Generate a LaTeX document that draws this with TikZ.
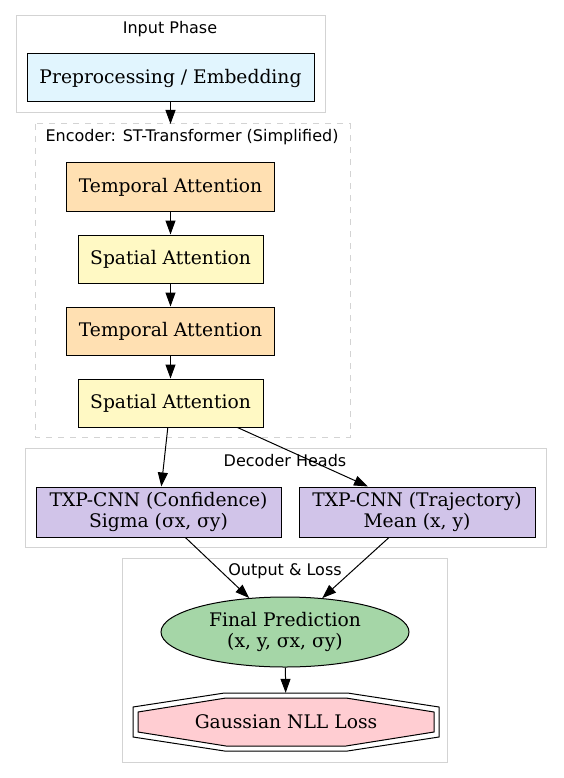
\documentclass[tikz,border=0pt]{standalone}
\usepackage{fontspec}
\setmainfont{DejaVu Serif}
\newfontfamily\labelfont{DejaVu Sans}
\usetikzlibrary{shapes.geometric,arrows.meta,positioning}
\definecolor{preblue}{HTML}{E1F5FE}
\definecolor{temporal}{HTML}{FFE0B2}
\definecolor{spatial}{HTML}{FFF9C4}
\definecolor{decoder}{HTML}{D1C4E9}
\definecolor{finalgreen}{HTML}{A5D6A7}
\definecolor{losspink}{HTML}{FFCDD2}
\definecolor{clustergray}{HTML}{D3D3D3}
\tikzset{
  cluster/.style={draw=clustergray, line width=1pt},
  clusterlabel/.style={font=\labelfont\fontsize{16}{18}\selectfont, inner sep=0pt},
  block/.style={draw, line width=1pt, inner sep=0pt, minimum height=48pt, align=center, font=\fontsize{18.7}{21}\selectfont},
  edge/.style={-{Triangle[length=14pt,width=10pt]}, line width=1pt},
}
\begin{document}
\begin{tikzpicture}[x=1pt,y=-1pt]
\useasboundingbox (0,0) rectangle (563,778);

% clusters
\draw[cluster] (16,16) rectangle (325,113);
\draw[cluster,dash pattern=on 6pt off 6pt] (35,124) rectangle (350,437);
\draw[cluster] (25,448) rectangle (546,547);
\draw[cluster] (122,558) rectangle (447,762);

\node (inlbl) at (170,29) [clusterlabel] {Input Phase};
\node (enclbl) at (192,137) [clusterlabel] {Encoder: ST-Transformer (Simplified)};
\node (declbl) at (285,461) [clusterlabel] {Decoder Heads};
\node (outlbl) at (285,571) [clusterlabel] {Output \& Loss};

\coordinate (enctop) at (170.5,124);

% input and encoder
\node (pre) at (170.5,78) [block, fill=preblue, minimum width=287pt] {Preprocessing / Embedding};
\foreach \n/\y/\c/\w/\t in {ta1/187/temporal/208/Temporal Attention, sa1/259/spatial/185/Spatial Attention,
                            ta2/331/temporal/208/Temporal Attention, sa2/403/spatial/185/Spatial Attention}
  \node (\n) at (170.5,\y) [block, fill=\c, minimum width=\w pt] {\t};

\draw[edge] (pre) -- (enctop);
\foreach \a/\b in {ta1/sa1, sa1/ta2, ta2/sa2}
  \draw[edge] (\a) -- (\b);

% decoder heads
\node (conf) at (158.5,512) [block, fill=decoder, minimum width=245pt, minimum height=50pt] {TXP-CNN (Confidence)\\Sigma (σx, σy)};
\node (traj) at (417,512) [block, fill=decoder, minimum width=236pt, minimum height=50pt] {TXP-CNN (Trajectory)\\Mean (x, y)};

\draw[edge] (sa2) -- (conf);
\draw[edge] ([xshift=67pt]sa2.south) -- ([xshift=-49pt]traj.north);

% output and loss
\node (final) at (285,632) [ellipse, draw, line width=1pt, fill=finalgreen, minimum width=248pt, minimum height=70pt,
  inner sep=0pt, align=center, font=\fontsize{18.7}{21}\selectfont] {Final Prediction\\(x, y, σx, σy)};

\coordinate (lossc) at (286,722);
\draw[shift={(lossc)}, line width=1pt, fill=white] (-61.5,-29) -- (61.5,-29) -- (153,-15) -- (153,15)
  -- (61.5,29) -- (-61.5,29) -- (-153,15) -- (-153,-15) -- cycle;
\draw[shift={(lossc)}, line width=1pt, fill=losspink] (-60,-24) -- (60,-24) -- (148,-10) -- (148,10)
  -- (60,24) -- (-60,24) -- (-148,10) -- (-148,-10) -- cycle;
\node (loss) at (lossc) [inner sep=0pt, minimum width=306pt, minimum height=58pt, font=\fontsize{18.7}{21}\selectfont] {Gaussian NLL Loss};

\draw[edge] (conf) -- (final);
\draw[edge] (traj) -- (final);
\draw[edge] (final) -- (loss);
\end{tikzpicture}
\end{document}
